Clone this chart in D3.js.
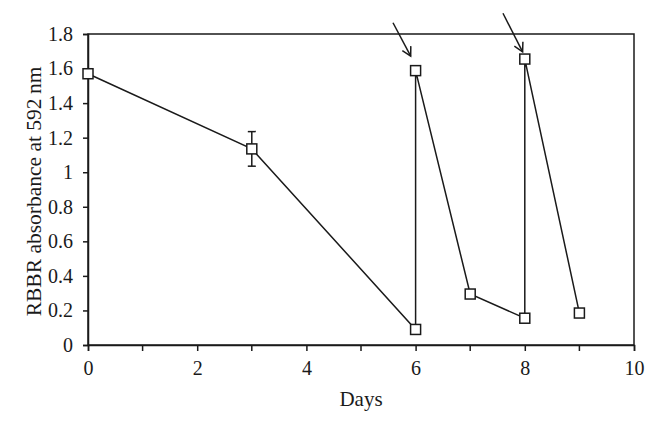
<!DOCTYPE html>
<html>
<head>
<meta charset="utf-8">
<script src="https://cdn.jsdelivr.net/npm/d3@7"></script>
<style>
  body { margin: 0; background: #fff; }
  text { font-family: "Liberation Serif", "Times New Roman", serif; fill: #1a1a1a; }
</style>
</head>
<body>
<svg></svg>
<script>
// measured points, in the order the line joins them
const days = [0, 3, 6, 6, 7, 8, 8, 9];
const absorbance = [1.57, 1.135, 0.09, 1.588, 0.295, 0.155, 1.655, 0.185];
const errors = [0, 0.1, 0, 0, 0, 0, 0, 0];

const xTicks = [0, 2, 4, 6, 8, 10];
const xMinor = [1, 3, 5, 7, 9];
const yTicks = [0, 0.2, 0.4, 0.6, 0.8, 1, 1.2, 1.4, 1.6, 1.8];

// arrows pointing to the re-dosing days: [x0, y0, x1, y1] in data units
const arrows = [[5.586, 1.865, 5.91, 1.672], [7.60, 1.92, 7.96, 1.697]];

const size = {w: 657, h: 426};
const margin = {t: 34, r: 23, b: 81, l: 88};
const svg = d3.select('svg')
    .attr('width', size.w)
    .attr('height', size.h);

const w = size.w - margin.l - margin.r,
      h = size.h - margin.t - margin.b;

const x = d3.scaleLinear().domain([0, 10]).range([margin.l, margin.l + w]);
const y = d3.scaleLinear().domain([0, 1.8]).range([margin.t + h, margin.t]);

const ink = '#1a1a1a';

// frame
svg.append('rect')
    .attr('x', x(0)).attr('y', y(1.8))
    .attr('width', w).attr('height', h)
    .attr('fill', 'none').attr('stroke', ink).attr('stroke-width', 1.5);

// y axis
const yAxis = svg.append('g')
    .attr('transform', 'translate(' + x(0) + ',0)')
    .call(d3.axisLeft(y).tickValues(yTicks).tickSize(5).tickPadding(10)
        .tickFormat(d => d3.format('~g')(d)));
yAxis.select('.domain').attr('stroke', ink).attr('stroke-width', 1.5);
yAxis.selectAll('line').attr('stroke', ink).attr('stroke-width', 1.5);
yAxis.selectAll('text').attr('font-size', 20).attr('fill', ink)
    .attr('font-family', '"Liberation Serif", serif');

// x axis with minor ticks
const xAxis = svg.append('g')
    .attr('transform', 'translate(0,' + y(0) + ')')
    .call(d3.axisBottom(x).tickValues(xTicks).tickSize(6).tickPadding(10));
xAxis.select('.domain').attr('stroke', ink).attr('stroke-width', 1.5);
xAxis.selectAll('line').attr('stroke', ink).attr('stroke-width', 1.5);
xAxis.selectAll('text').attr('font-size', 20).attr('fill', ink)
    .attr('font-family', '"Liberation Serif", serif');

svg.append('g').selectAll('line')
    .data(xMinor)
    .enter()
    .append('line')
    .attr('x1', d => x(d)).attr('x2', d => x(d))
    .attr('y1', y(0)).attr('y2', y(0) + 6)
    .attr('stroke', ink).attr('stroke-width', 1.5);

// axis titles
svg.append('text')
    .attr('x', margin.l + w / 2)
    .attr('y', 406)
    .attr('text-anchor', 'middle')
    .attr('font-size', 21)
    .text('Days');

svg.append('text')
    .attr('transform', 'translate(41,' + (margin.t + h / 2 + 2) + ') rotate(-90)')
    .attr('text-anchor', 'middle')
    .attr('font-size', 21.5)
    .text('RBBR absorbance at 592\u2009nm');

const pts = days.map((d, i) => ({x: d, y: absorbance[i], e: errors[i]}));

// connecting line
svg.append('path')
    .datum(pts)
    .attr('d', d3.line().x(d => x(d.x)).y(d => y(d.y)))
    .attr('fill', 'none')
    .attr('stroke', ink)
    .attr('stroke-width', 1.5);

// error bars
const eb = svg.append('g').selectAll('g')
    .data(pts.filter(d => d.e > 0))
    .enter()
    .append('g')
    .attr('stroke', ink).attr('stroke-width', 1.5);
eb.append('line')
    .attr('x1', d => x(d.x)).attr('x2', d => x(d.x))
    .attr('y1', d => y(d.y - d.e)).attr('y2', d => y(d.y + d.e));
eb.append('line')
    .attr('x1', d => x(d.x) - 4).attr('x2', d => x(d.x) + 4)
    .attr('y1', d => y(d.y + d.e)).attr('y2', d => y(d.y + d.e));
eb.append('line')
    .attr('x1', d => x(d.x) - 4).attr('x2', d => x(d.x) + 4)
    .attr('y1', d => y(d.y - d.e)).attr('y2', d => y(d.y - d.e));

// square markers
svg.append('g').selectAll('rect')
    .data(pts)
    .enter()
    .append('rect')
    .attr('x', d => x(d.x) - 5)
    .attr('y', d => y(d.y) - 5)
    .attr('width', 10).attr('height', 10)
    .attr('fill', '#fff')
    .attr('stroke', ink)
    .attr('stroke-width', 1.5);

// arrows with open heads
const ar = svg.append('g').selectAll('g')
    .data(arrows)
    .enter()
    .append('g')
    .attr('stroke', ink).attr('stroke-width', 1.5).attr('fill', 'none');
ar.append('line')
    .attr('x1', d => x(d[0])).attr('y1', d => y(d[1]))
    .attr('x2', d => x(d[2])).attr('y2', d => y(d[3]));
ar.append('path')
    .attr('d', function (d) {
        let x1 = x(d[2]), y1 = y(d[3]);
        let a = Math.atan2(y1 - y(d[1]), x1 - x(d[0]));
        let L = 10, s = 0.5;
        let p1 = [x1 - L * Math.cos(a - s), y1 - L * Math.sin(a - s)];
        let p2 = [x1 - L * Math.cos(a + s), y1 - L * Math.sin(a + s)];
        return 'M' + p1 + 'L' + x1 + ',' + y1 + 'L' + p2;
    });
</script>
</body>
</html>
